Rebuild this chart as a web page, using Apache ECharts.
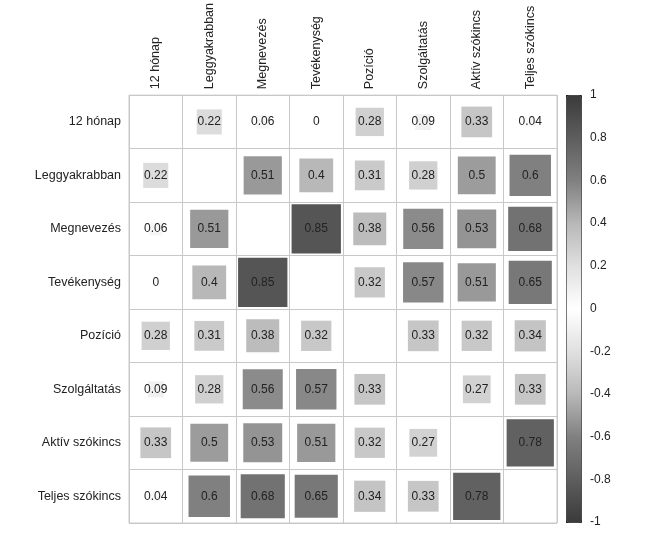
<!DOCTYPE html>
<html>
<head>
<meta charset="utf-8">
<script src="https://cdn.jsdelivr.net/npm/echarts@6/dist/echarts.min.js"></script>
<style>html,body{margin:0;padding:0;background:#fff}#c{width:668px;height:557px}</style>
</head>
<body>
<div id="c"></div>
<script>
const categories = ['12 hónap','Leggyakrabban','Megnevezés','Tevékenység','Pozíció','Szolgáltatás','Aktív szókincs','Teljes szókincs'];
const row12honap      = [null, 0.22, 0.06, 0,    0.28, 0.09, 0.33, 0.04];
const rowLeggyakrabban= [0.22, null, 0.51, 0.4,  0.31, 0.28, 0.5,  0.6];
const rowMegnevezes   = [0.06, 0.51, null, 0.85, 0.38, 0.56, 0.53, 0.68];
const rowTevekenyseg  = [0,    0.4,  0.85, null, 0.32, 0.57, 0.51, 0.65];
const rowPozicio      = [0.28, 0.31, 0.38, 0.32, null, 0.33, 0.32, 0.34];
const rowSzolgaltatas = [0.09, 0.28, 0.56, 0.57, 0.33, null, 0.27, 0.33];
const rowAktiv        = [0.33, 0.5,  0.53, 0.51, 0.32, 0.27, null, 0.78];
const rowTeljes       = [0.04, 0.6,  0.68, 0.65, 0.34, 0.33, 0.78, null];
const colorbarTicks = [-1,-0.8,-0.6,-0.4,-0.2,0,0.2,0.4,0.6,0.8,1];

const matrix = [row12honap,rowLeggyakrabban,rowMegnevezes,rowTevekenyseg,rowPozicio,rowSzolgaltatas,rowAktiv,rowTeljes];
const data = [];
matrix.forEach((row,i)=>row.forEach((v,j)=>{ if(v!==null) data.push([j,i,v]); }));

const FONT = '"Liberation Sans", Arial, sans-serif';
const chart = echarts.init(document.getElementById('c'));
chart.setOption({
  backgroundColor:'#fff',
  animation:false,
  grid:[
    {left:129, top:95, width:428, height:428, show:true, borderColor:'#c8c8c8', borderWidth:1},
    {left:566, top:95, width:15, height:427, show:false}
  ],
  xAxis:[
    {type:'category', gridIndex:0, data:categories, position:'top', boundaryGap:true,
     axisLine:{show:false}, axisTick:{show:false},
     axisLabel:{rotate:-90, interval:0, margin:6, fontSize:12.5, color:'#222', fontFamily:FONT},
     splitLine:{show:true, interval:0, lineStyle:{color:'#c8c8c8', width:1}}},
    {type:'value', gridIndex:1, show:false, min:0, max:1}
  ],
  yAxis:[
    {type:'category', gridIndex:0, data:categories, inverse:true, boundaryGap:true,
     axisLine:{show:false}, axisTick:{show:false},
     axisLabel:{interval:0, margin:8, fontSize:12.5, color:'#222', fontFamily:FONT},
     splitLine:{show:true, interval:0, lineStyle:{color:'#c8c8c8', width:1}}},
    {type:'value', gridIndex:1, position:'right', min:colorbarTicks[0], max:colorbarTicks[colorbarTicks.length-1], interval:0.2,
     axisLine:{show:false}, splitLine:{show:false},
     axisTick:{show:true, length:4, lineStyle:{color:'#333'}},
     axisLabel:{margin:9, fontSize:12, color:'#222', fontFamily:FONT,
       formatter:v=>String(Math.round(v*10)/10)}}
  ],
  visualMap:{
    type:'continuous', min:-1, max:1, dimension:2, seriesIndex:0,
    orient:'vertical', left:566, top:95, itemWidth:15, itemHeight:427,
    padding:0, calculable:false, hoverLink:false, text:null, showLabel:false,
    borderColor:'#222', borderWidth:1,
    inRange:{color:['#3a3a3a','#5e5e5e','#808080','#b8b8b8','#e0e0e0','#ffffff','#e0e0e0','#b8b8b8','#808080','#5e5e5e','#3a3a3a']}
  },
  series:[{
    type:'custom', xAxisIndex:0, yAxisIndex:0, data:data,
    renderItem:function(params, api){
      const v = api.value(2);
      const c = api.coord([api.value(0), api.value(1)]);
      const s = api.size([1,1]);
      const side = Math.sqrt(Math.abs(v)) * s[0];
      return {type:'group', children:[
        {type:'rect', shape:{x:c[0]-side/2, y:c[1]-side/2, width:side, height:side},
         style:{fill:api.visual('color')}},
        {type:'text', x:c[0], y:c[1],
         style:{text:String(v), align:'center', verticalAlign:'middle', fill:'#222',
                fontSize:12, fontFamily:FONT}}
      ]};
    }
  }]
});
</script>
</body>
</html>
